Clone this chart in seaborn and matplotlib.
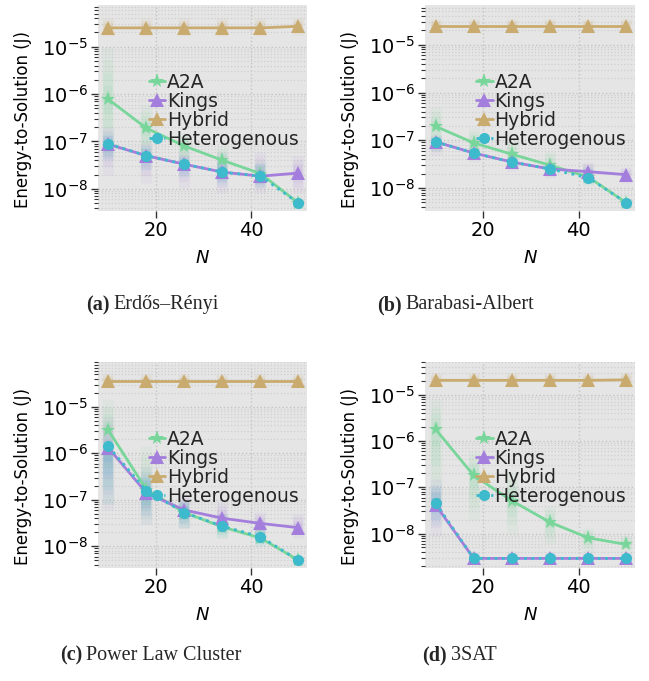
import numpy as np
import pandas as pd
import matplotlib
matplotlib.use("Agg")
import matplotlib.pyplot as plt
import seaborn as sns
from matplotlib.ticker import LogLocator, NullFormatter, FixedLocator

# ---------------- data ----------------
N = [10, 18, 26, 34, 42, 50]
X_TICKS = [20, 40]
SERIES = ["A2A", "Kings", "Hybrid", "Heterogenous"]
CAPTIONS = [("(a)", "Erdős–Rényi"), ("(b)", "Barabasi-Albert"),
            ("(c)", "Power Law Cluster"), ("(d)", "3SAT")]

# (a) Erdős–Rényi
ER_A2A = [7.7e-7, 1.9e-7, 8.0e-8, 4.0e-8, 2.1e-8, 5.0e-9]
ER_KINGS = [8.7e-8, 5.0e-8, 3.3e-8, 2.25e-8, 1.85e-8, 2.15e-8]
ER_HYBRID = [2.5e-5, 2.5e-5, 2.5e-5, 2.5e-5, 2.5e-5, 2.7e-5]
ER_HET = [8.9e-8, 5.0e-8, 3.3e-8, 2.25e-8, 1.85e-8, 5.0e-9]
ER_A2A_LO = [5e-8, 4e-8, 2.5e-8, 1.5e-8, 1.1e-8, 4e-9]
ER_A2A_HI = [1e-5, 6e-7, 1.5e-7, 8e-8, 4e-8, 6e-9]
ER_KINGS_LO = [2e-8, 1.3e-8, 1.05e-8, 8e-9, 8e-9, 8e-9]
ER_KINGS_HI = [2e-7, 1e-7, 6e-8, 6e-8, 6e-8, 5e-8]
ER_HYBRID_LO = [1.7e-5, 1.7e-5, 1.7e-5, 1.7e-5, 1.7e-5, 1.8e-5]
ER_HYBRID_HI = [4e-5, 4e-5, 4e-5, 4e-5, 4e-5, 4e-5]
ER_HET_LO = [4e-8, 2.5e-8, 1.8e-8, 1.2e-8, 1.1e-8, 4e-9]
ER_HET_HI = [1.5e-7, 8e-8, 5e-8, 4e-8, 3.5e-8, 6e-9]

# (b) Barabasi-Albert
BA_A2A = [1.96e-7, 8.8e-8, 5.1e-8, 3.0e-8, 1.7e-8, 4.9e-9]
BA_KINGS = [9.3e-8, 5.4e-8, 3.5e-8, 2.5e-8, 2.2e-8, 1.9e-8]
BA_HYBRID = [2.5e-5, 2.5e-5, 2.5e-5, 2.5e-5, 2.5e-5, 2.5e-5]
BA_HET = [9.3e-8, 5.4e-8, 3.5e-8, 2.5e-8, 1.65e-8, 4.9e-9]
BA_A2A_LO = [6e-8, 4e-8, 3e-8, 1.8e-8, 1.1e-8, 4e-9]
BA_A2A_HI = [5e-7, 1.8e-7, 1e-7, 6e-8, 3e-8, 6e-9]
BA_KINGS_LO = [5e-8, 3.5e-8, 2.3e-8, 1.6e-8, 1.4e-8, 1.3e-8]
BA_KINGS_HI = [1.3e-7, 7e-8, 4.5e-8, 3.5e-8, 3.5e-8, 2.8e-8]
BA_HYBRID_LO = [1.8e-5, 1.8e-5, 1.8e-5, 1.8e-5, 1.8e-5, 1.8e-5]
BA_HYBRID_HI = [3.5e-5, 3.5e-5, 3.5e-5, 3.5e-5, 3.5e-5, 3.5e-5]
BA_HET_LO = [6e-8, 4e-8, 2.6e-8, 1.8e-8, 1.2e-8, 4e-9]
BA_HET_HI = [1.2e-7, 7e-8, 4.5e-8, 3.3e-8, 2.5e-8, 6e-9]

# (c) Power Law Cluster
PL_A2A = [3.1e-6, 1.65e-7, 5.3e-8, 2.6e-8, 1.5e-8, 5.0e-9]
PL_KINGS = [1.3e-6, 1.4e-7, 6.0e-8, 4.0e-8, 3.1e-8, 2.5e-8]
PL_HYBRID = [3.6e-5, 3.6e-5, 3.6e-5, 3.6e-5, 3.6e-5, 3.6e-5]
PL_HET = [1.4e-6, 1.55e-7, 5.3e-8, 2.7e-8, 1.6e-8, 5.0e-9]
PL_A2A_LO = [8e-8, 3e-8, 2.5e-8, 1.5e-8, 1e-8, 4e-9]
PL_A2A_HI = [1.5e-5, 1.4e-6, 1e-7, 5e-8, 2.5e-8, 6e-9]
PL_KINGS_LO = [6e-8, 3e-8, 2.5e-8, 2e-8, 1.4e-8, 1.5e-8]
PL_KINGS_HI = [6e-6, 5e-7, 1.3e-7, 9e-8, 5.5e-8, 5e-8]
PL_HYBRID_LO = [2.5e-5, 2.5e-5, 2.5e-5, 2.5e-5, 2.5e-5, 2.5e-5]
PL_HYBRID_HI = [5e-5, 5e-5, 5e-5, 5e-5, 5e-5, 5e-5]
PL_HET_LO = [8e-8, 4e-8, 2.5e-8, 1.5e-8, 1e-8, 4e-9]
PL_HET_HI = [1.5e-6, 4e-7, 1e-7, 5e-8, 2.5e-8, 6e-9]

# (d) 3SAT
SAT_A2A = [1.8e-6, 1.8e-7, 5.1e-8, 1.75e-8, 8.1e-9, 5.8e-9]
SAT_KINGS = [4.2e-8, 2.9e-9, 2.9e-9, 2.9e-9, 2.9e-9, 2.9e-9]
SAT_HYBRID = [2.05e-5, 2.05e-5, 2.05e-5, 2.05e-5, 2.05e-5, 2.1e-5]
SAT_HET = [4.6e-8, 2.9e-9, 2.9e-9, 2.9e-9, 2.9e-9, 2.9e-9]
SAT_A2A_LO = [5e-8, 2e-8, 1e-8, 6e-9, 4e-9, 4e-9]
SAT_A2A_HI = [8e-6, 6e-7, 2e-7, 4e-8, 1.3e-8, 9e-9]
SAT_KINGS_LO = [9e-9, 2.2e-9, 2.2e-9, 2.2e-9, 2.2e-9, 2.2e-9]
SAT_KINGS_HI = [1.5e-7, 4e-9, 4e-9, 4e-9, 4e-9, 4e-9]
SAT_HYBRID_LO = [1.5e-5, 1.5e-5, 1.5e-5, 1.5e-5, 1.5e-5, 1.5e-5]
SAT_HYBRID_HI = [3e-5, 3e-5, 3e-5, 3e-5, 3e-5, 3e-5]
SAT_HET_LO = [1.5e-8, 2.4e-9, 2.4e-9, 2.4e-9, 2.4e-9, 2.4e-9]
SAT_HET_HI = [1.2e-7, 3.5e-9, 3.5e-9, 3.5e-9, 3.5e-9, 3.5e-9]

YLIMS = [(3.4e-9, 7.6e-5), (3.3e-9, 6.8e-5), (3.4e-9, 9.2e-5), (1.8e-9, 5.1e-5)]

PANELS = [
    {"A2A": (ER_A2A, ER_A2A_LO, ER_A2A_HI), "Kings": (ER_KINGS, ER_KINGS_LO, ER_KINGS_HI),
     "Hybrid": (ER_HYBRID, ER_HYBRID_LO, ER_HYBRID_HI), "Heterogenous": (ER_HET, ER_HET_LO, ER_HET_HI)},
    {"A2A": (BA_A2A, BA_A2A_LO, BA_A2A_HI), "Kings": (BA_KINGS, BA_KINGS_LO, BA_KINGS_HI),
     "Hybrid": (BA_HYBRID, BA_HYBRID_LO, BA_HYBRID_HI), "Heterogenous": (BA_HET, BA_HET_LO, BA_HET_HI)},
    {"A2A": (PL_A2A, PL_A2A_LO, PL_A2A_HI), "Kings": (PL_KINGS, PL_KINGS_LO, PL_KINGS_HI),
     "Hybrid": (PL_HYBRID, PL_HYBRID_LO, PL_HYBRID_HI), "Heterogenous": (PL_HET, PL_HET_LO, PL_HET_HI)},
    {"A2A": (SAT_A2A, SAT_A2A_LO, SAT_A2A_HI), "Kings": (SAT_KINGS, SAT_KINGS_LO, SAT_KINGS_HI),
     "Hybrid": (SAT_HYBRID, SAT_HYBRID_LO, SAT_HYBRID_HI), "Heterogenous": (SAT_HET, SAT_HET_LO, SAT_HET_HI)},
]

# ---------------- style ----------------
COLORS = {"A2A": "#78D69A", "Kings": "#A47EDC", "Hybrid": "#C9AB6F", "Heterogenous": "#3DBACB"}
MARKERS = {"A2A": "*", "Kings": "^", "Hybrid": "^", "Heterogenous": "o"}
MSIZE = {"A2A": 11, "Kings": 10, "Hybrid": 10, "Heterogenous": 8}
LSTYLE = {"A2A": "-", "Kings": "-", "Hybrid": "-", "Heterogenous": ":"}
DRAW_ORDER = ["Hybrid", "A2A", "Kings", "Heterogenous"]

sns.set_theme(style="darkgrid")
plt.rcParams["font.family"] = ["DejaVu Sans"]
FS = 14

W, H = 649, 681
fig = plt.figure(figsize=(W / 100, H / 100), dpi=100)

# axes boxes in pixels: left, top, right, bottom
BOXES = [(98, 5, 307, 211), (425, 5, 635, 211), (98, 362, 307, 568), (425, 362, 635, 568)]

for i, (panel, box) in enumerate(zip(PANELS, BOXES)):
    l, t, r, b = box
    ax = fig.add_axes([l / W, 1 - b / H, (r - l) / W, (b - t) / H])
    ax.set_facecolor("#E5E5E5")
    ax.set_yscale("log")

    # spread clouds (fading towards the extremes)
    for name in DRAW_ORDER:
        med, lo, hi = panel[name]
        med, lo, hi = np.array(med), np.array(lo), np.array(hi)
        c = COLORS[name]
        for f, a, w in [(1.0, 0.07, 8), (0.75, 0.08, 7), (0.5, 0.09, 7), (0.25, 0.10, 6)]:
            ax.vlines(N, lo ** f * med ** (1 - f), hi ** f * med ** (1 - f),
                      colors=c, alpha=a, lw=w, zorder=1.5)

    for name in DRAW_ORDER:
        med = panel[name][0]
        df = pd.DataFrame({"N": N, "E": med})
        sns.lineplot(data=df, x="N", y="E", ax=ax, color=COLORS[name],
                     marker=MARKERS[name], markersize=MSIZE[name], markeredgewidth=0,
                     linestyle=LSTYLE[name], linewidth=2.0, label=name, zorder=3)
    hs, ls = ax.get_legend_handles_labels()
    hmap = dict(zip(ls, hs))
    ax.legend([hmap[s] for s in SERIES], SERIES, loc="upper left",
              bbox_to_anchor=(0.242, 0.672), frameon=False, fontsize=FS - 0.5,
              handlelength=0.9, handletextpad=0.1, labelspacing=0.0,
              borderpad=0.0, borderaxespad=0.0)

    ax.set_xlim(7.8, 51.8)
    ax.set_ylim(*YLIMS[i])
    ax.xaxis.set_major_locator(FixedLocator(X_TICKS))
    ax.yaxis.set_major_locator(LogLocator(base=10, numticks=20))
    ax.yaxis.set_minor_locator(LogLocator(base=10, subs=np.arange(2, 10), numticks=20))
    ax.yaxis.set_minor_formatter(NullFormatter())
    ax.grid(True, which="major", color="#C4C4C4", linestyle=":", linewidth=1.0)
    ax.grid(True, which="minor", axis="y", color="#CFCFCF", linestyle=":", linewidth=0.9)
    for sp in ax.spines.values():
        sp.set_visible(False)
    ax.tick_params(axis="both", which="major", labelsize=FS, length=5, width=1,
                   color="#333333", left=True, bottom=True, pad=2, labelcolor="black")
    ax.tick_params(axis="y", which="minor", length=3, width=0.8, color="#333333", left=True)
    ax.set_ylabel("Energy-to-Solution (J)", fontsize=12, color="black")
    ax.yaxis.set_label_coords(-0.315, 0.444)
    ax.set_xlabel("$N$", fontsize=FS - 1, color="black", labelpad=7)

# captions
renderer = fig.canvas.get_renderer()
CAP_POS = [(86, 305), (377, 305), (60, 655), (422, 655)]
for (tag, txt), (x0, y0) in zip(CAPTIONS, CAP_POS):
    t1 = fig.text(x0 / W, 1 - y0 / H, tag, fontsize=14.5, fontweight="bold",
                  family=["Liberation Serif", "DejaVu Serif"], ha="left", va="center")
    bb = t1.get_window_extent(renderer=renderer)
    fig.text((bb.x1 + 4) / W, 1 - y0 / H, txt, fontsize=14.5,
             family=["Liberation Serif", "DejaVu Serif"], ha="left", va="center")

fig.savefig("out.png", dpi=100)
